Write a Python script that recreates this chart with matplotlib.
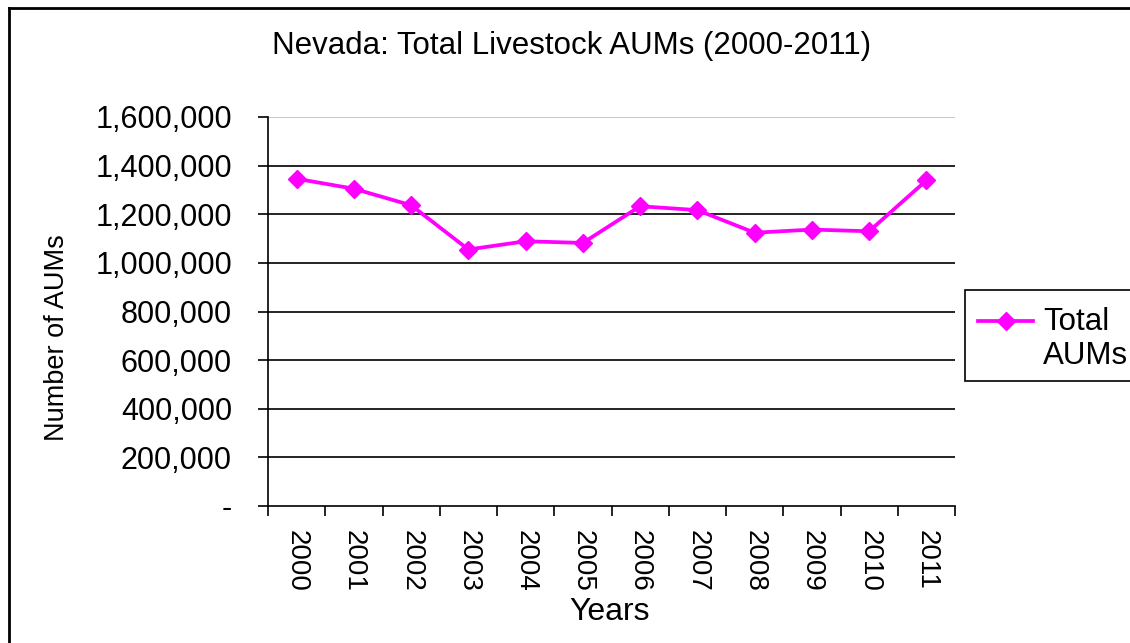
import matplotlib
matplotlib.use("Agg")
import matplotlib.pyplot as plt
from matplotlib.lines import Line2D
from matplotlib.patches import Rectangle
from matplotlib.ticker import FuncFormatter, FixedLocator

plt.rcParams['font.family'] = ['Liberation Sans', 'DejaVu Sans']

years = ['2000', '2001', '2002', '2003', '2004', '2005',
         '2006', '2007', '2008', '2009', '2010', '2011']
total_aums = [1346000, 1305000, 1237000, 1055000, 1089000, 1082000,
              1233000, 1217000, 1124000, 1137000, 1130000, 1339000]
y_ticks = [0, 200000, 400000, 600000, 800000, 1000000, 1200000, 1400000, 1600000]

title = 'Nevada: Total Livestock AUMs (2000-2011)'
x_label = 'Years'
y_label = 'Number of AUMs'
series_label = 'Total\nAUMs'

W, H = 1130, 643
fig = plt.figure(figsize=(W / 100, H / 100), dpi=100)
fig.patch.set_facecolor('white')

def fx(px):
    return px / W

def fy(py):
    return 1 - py / H

ax = fig.add_axes([fx(268), fy(506), fx(955) - fx(268), fy(117) - fy(506)])

xs = [i + 0.5 for i in range(len(years))]
magenta = '#FF00FF'
ax.plot(xs, total_aums, color=magenta, linewidth=2.7, marker='D',
        markersize=9.5, markerfacecolor=magenta, markeredgecolor=magenta,
        zorder=3, clip_on=False)

ax.set_xlim(0, len(years))
ax.set_ylim(0, 1600000)

# horizontal gridlines
for v in y_ticks[1:]:
    ax.axhline(v, color='#BBBBBB' if v == y_ticks[-1] else 'black',
               linewidth=1.2, zorder=1)

ax.yaxis.set_major_locator(FixedLocator(y_ticks))
ax.yaxis.set_major_formatter(FuncFormatter(lambda v, p: '-' if v == 0 else f'{int(v):,}'))
ax.tick_params(axis='y', direction='out', length=7, width=1.2, pad=19,
               labelsize=22, colors='black')

ax.xaxis.set_major_locator(FixedLocator(list(range(len(years) + 1))))
ax.xaxis.set_major_formatter(FuncFormatter(lambda v, p: ''))
ax.xaxis.set_minor_locator(FixedLocator(xs))
ax.set_xticklabels(years, minor=True)
ax.tick_params(axis='x', which='major', direction='out', length=7, width=1.2)
ax.tick_params(axis='x', which='minor', length=0, pad=17, labelsize=20,
               labelrotation=270)

for s in ['top', 'right']:
    ax.spines[s].set_visible(False)
for s in ['left', 'bottom']:
    ax.spines[s].set_linewidth(1.2)
    ax.spines[s].set_color('black')

fig.text(fx(572), fy(46), title, ha='center', va='center', fontsize=22.5)
fig.text(fx(610), fy(612), x_label, ha='center', va='center', fontsize=23)
fig.text(fx(57), fy(338), y_label, ha='center', va='center', fontsize=19.5,
         rotation=90)

# legend box (runs off the right edge)
fig.add_artist(Rectangle((fx(965), fy(381)), fx(1140) - fx(965), fy(290) - fy(381),
                         transform=fig.transFigure, facecolor='white',
                         edgecolor='black', linewidth=1.2))
fig.add_artist(Line2D([fx(978), fx(1033)], [fy(321), fy(321)],
                      transform=fig.transFigure, color=magenta, linewidth=2.7))
fig.add_artist(Line2D([fx(1006)], [fy(321)], transform=fig.transFigure,
                      color=magenta, marker='D', markersize=9.5, linestyle='none'))
fig.text(fx(1043), fy(339), series_label, ha='left', va='center', fontsize=22.5,
         linespacing=1.2)

# outer chart frame
fig.add_artist(Line2D([fx(9), fx(1130)], [fy(8), fy(8)], transform=fig.transFigure,
                      color='black', linewidth=2))
fig.add_artist(Line2D([fx(9), fx(9)], [fy(8), 0], transform=fig.transFigure,
                      color='black', linewidth=2))

fig.savefig('out.png', dpi=100)
